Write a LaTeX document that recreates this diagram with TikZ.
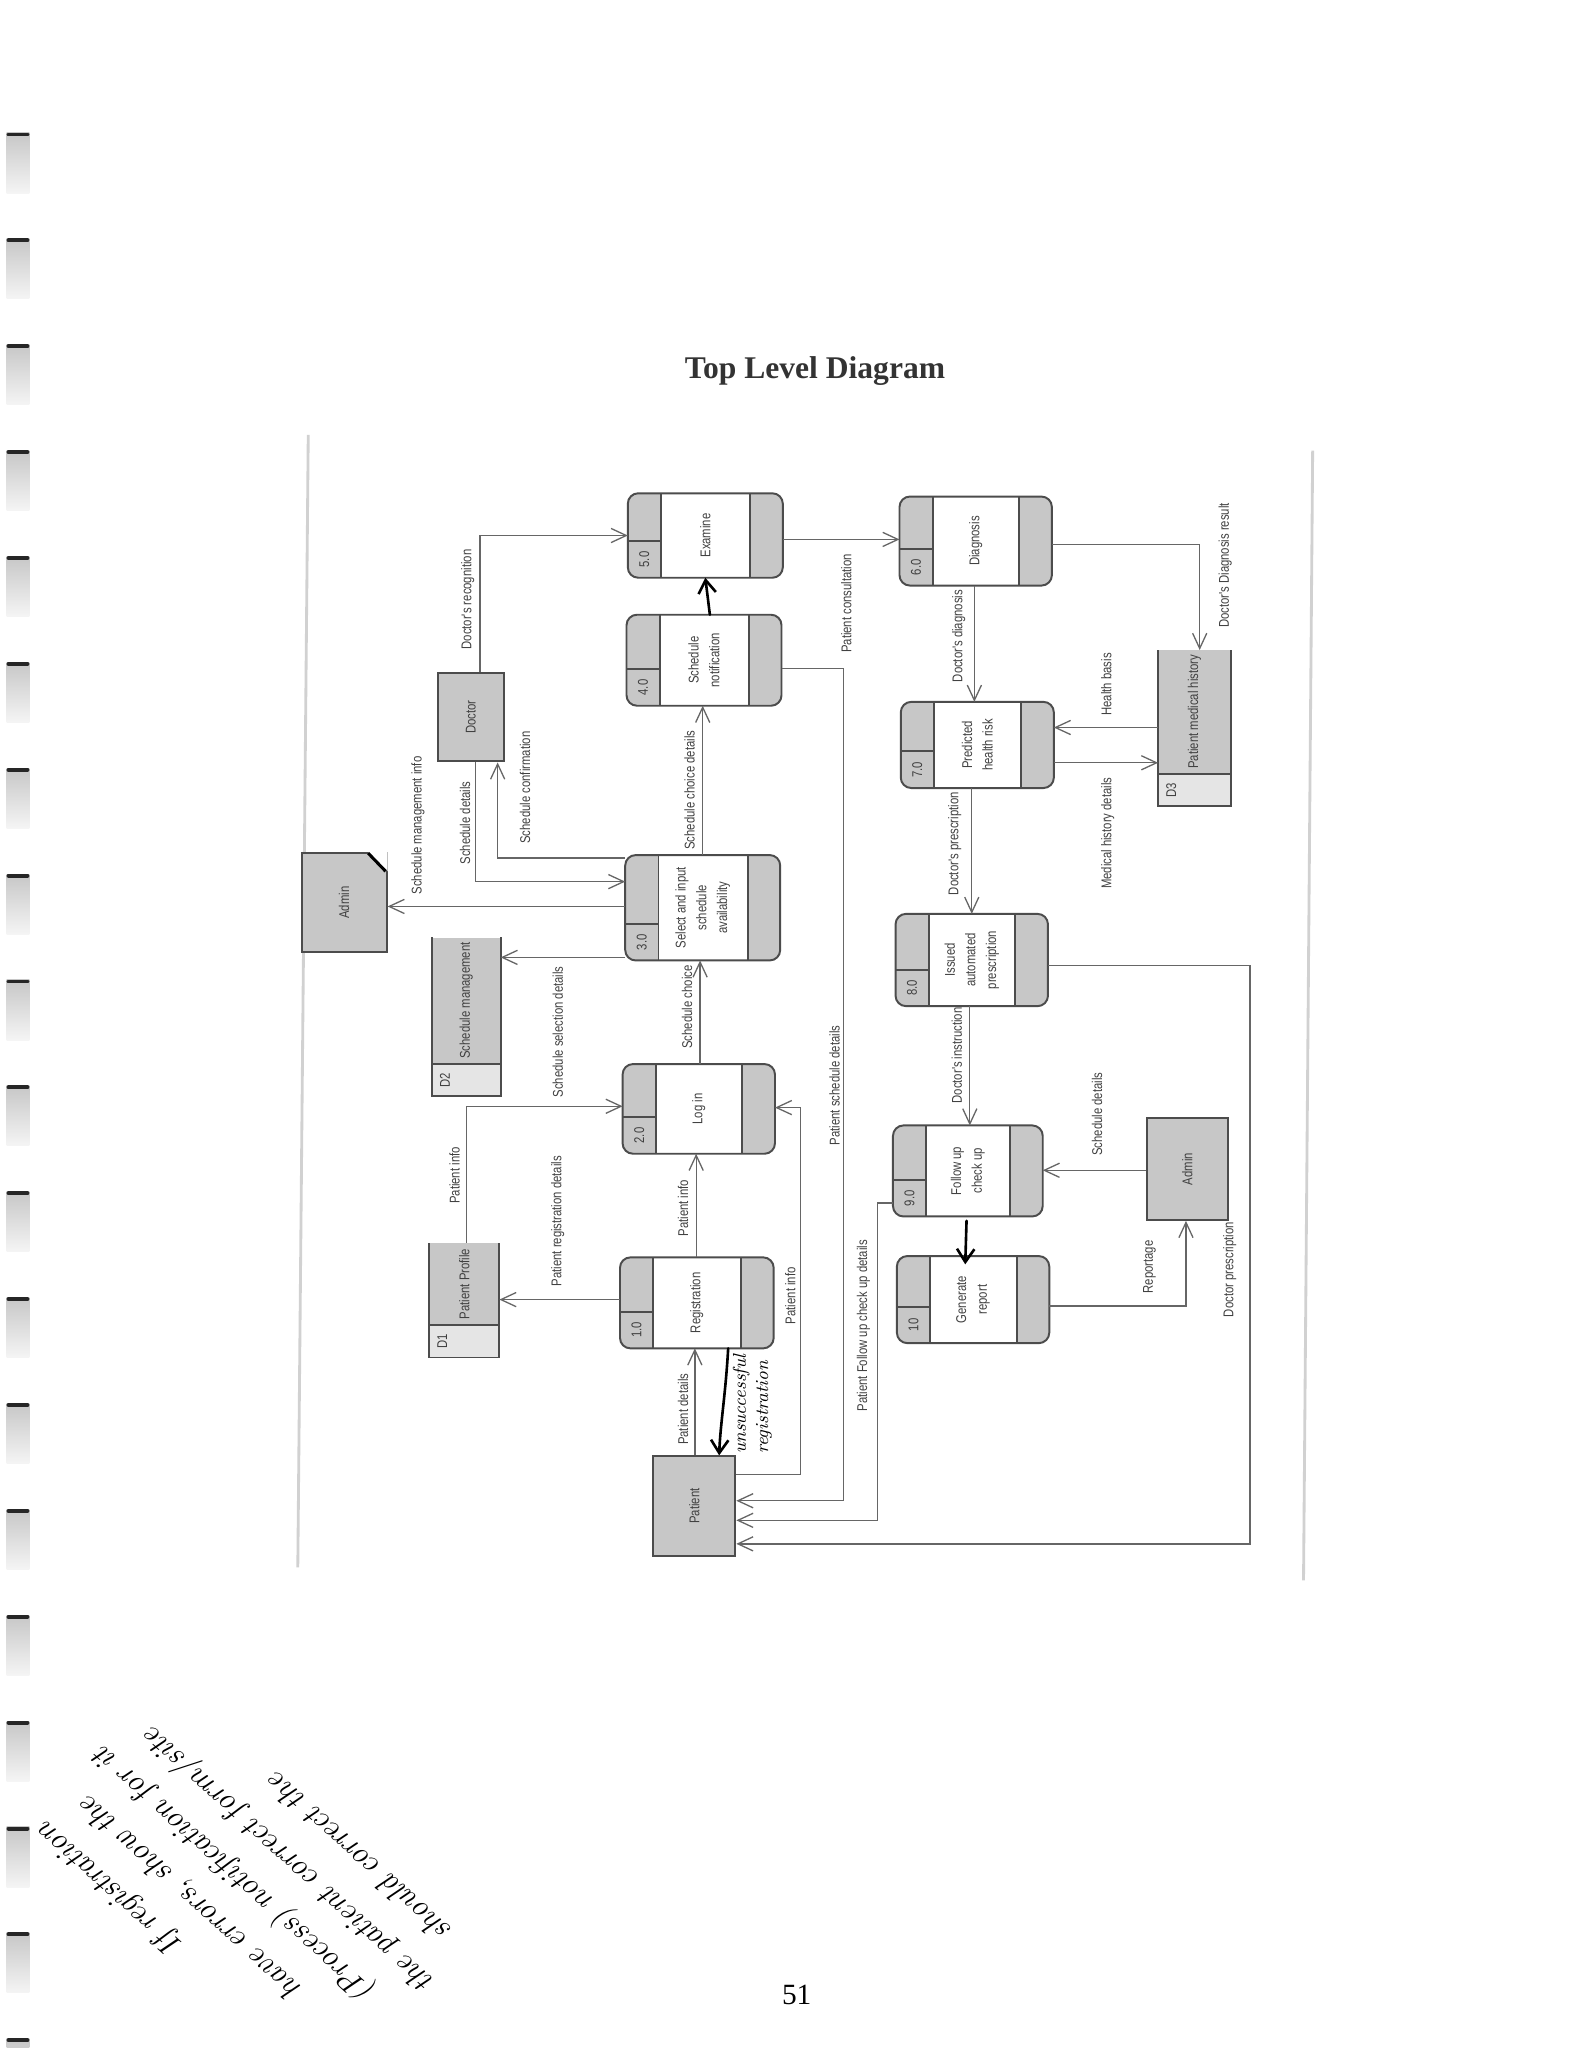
\documentclass[tikz,border=0pt]{standalone}
\usepackage{fontspec}
\usepackage{tikz}
\usetikzlibrary{arrows.meta, fit, calc}
\newfontfamily\dfdfont{Liberation Sans}[FakeStretch=0.8]
\newfontfamily\pagefont{Liberation Serif}
\tikzset{
  proc/.style={fill=black!22, rounded corners=4.8pt, inner sep=0pt},
  entity/.style={fill=black!22, draw=black!70, line width=0.9pt, inner sep=0pt},
  store/.style={fill=black!22, inner sep=0pt},
  boxline/.style={draw=black!70, line width=0.9pt},
  flow/.style={draw=black!60, line width=0.6pt, -{Straight Barb[length=7pt,width=6.5pt]}},
  lbl/.style={rotate=90, inner sep=0pt, text=black!75, font=\dfdfont\fontsize{6.5}{9.5}\selectfont},
  boxtxt/.style={lbl, align=center},
  pageline/.style={draw=black!18, line width=1.3pt},
  hand/.style={draw=black, line width=1.2pt, line cap=round, -{Straight Barb[length=6pt,width=8pt]}},
  handnote/.style={rotate=138, inner sep=0pt, font=\itshape\fontsize{14.5}{17}\selectfont},
}
% process box: name, corners, id, text
\newcommand{\procbox}[4]{%
  \node[proc, fit={#2}] (#1) {};
  \fill[white] ([xshift=15.3pt]#1.south west) rectangle ([xshift=-15pt]#1.north east);
  \draw[boxline] ([xshift=15.3pt]#1.south west) -- ([xshift=15.3pt]#1.north west)
    ([xshift=-15pt]#1.south east) -- ([xshift=-15pt]#1.north east)
    ([yshift=16.8pt]#1.south west) -- ([xshift=15.3pt,yshift=16.8pt]#1.south west);
  \draw[boxline, rounded corners=4.8pt] (#1.south west) rectangle (#1.north east);
  \node[lbl] (#1-id) at ([xshift=7.6pt,yshift=8.4pt]#1.south west) {#3};
  \node[boxtxt] (#1-txt) at (#1.center) {#4};
}
% data store: name, corners, id, text
\newcommand{\datastore}[4]{%
  \node[store, fit={#2}] (#1) {};
  \fill[black!10] (#1.south west) rectangle ([yshift=15pt]#1.south east);
  \draw[boxline] (#1.north west) -- (#1.south west) -- (#1.south east) -- (#1.north east)
    ([yshift=15pt]#1.south west) -- ([yshift=15pt]#1.south east);
  \node[lbl] (#1-id) at ([xshift=6pt,yshift=7.5pt]#1.south west) {#3};
  \node[lbl] (#1-txt) at ($(#1.north)!0.5!([yshift=15pt]#1.south)$) {#4};
}

\begin{document}
\begin{tikzpicture}[x=0.6pt, y=-0.6pt]
\useasboundingbox (0,0) rectangle (1211,1568);
\fill[white] (0,0) rectangle (1211,1568);
% binding holes
\foreach \k in {0,...,18} {
  \shade[top color=black!22, bottom color=black!4] (5,{101.8+81.06*\k}) rectangle (22.5,{147.8+81.06*\k});
  \draw[black!85, line width=1.8pt, line cap=round] (6.5,{103+81.06*\k}) -- (21,{103+81.06*\k});
}
% page
\node[font=\pagefont\bfseries\fontsize{14.5}{17}\selectfont, text=black!80] (title) at (624,284) {Top Level Diagram};
\node[font=\pagefont\fontsize{13.5}{16}\selectfont] (pagenum) at (610,1527) {51};
\draw[pageline] (236,333) -- (228,1200);
\draw[pageline] (1005,345) -- (998,1210);

% processes
\procbox{p1}{(475,963) (592,1032)}{1.0}{Registration}
\procbox{p2}{(477,815) (593,883)}{2.0}{Log in}
\procbox{p3}{(479,655) (597,735)}{3.0}{Select and input\\schedule\\availability}
\procbox{p4}{(480,471) (598,540)}{4.0}{Schedule\\notification}
\procbox{p5}{(481,378) (599,442)}{5.0}{Examine}
\procbox{p6}{(689,380.5) (805,448)}{6.0}{Diagnosis}
\procbox{p7}{(690,537.7) (806.5,603)}{7.0}{Predicted\\health risk}
\procbox{p8}{(686,700) (802,770)}{8.0}{Issued\\automated\\prescription}
\procbox{p9}{(684,862) (798,931)}{9.0}{Follow up\\check up}
\procbox{p10}{(687,962) (803,1028)}{10}{Generate\\report}

% entities
\node[entity, fit={(335,515) (386,583)}, label={[lbl, name=doctor-txt]center:Doctor}] (doctor) {};
\node[entity, fit={(231,653) (296,729)}, label={[lbl, name=admin1-txt]center:Admin}] (admin1) {};
\node[entity, fit={(500,1115) (563,1191)}, label={[lbl, name=patient-txt]center:Patient}] (patient) {};
\node[entity, fit={(878,856) (940,934)}, label={[lbl, name=admin2-txt]center:Admin}] (admin2) {};
\fill[white] ([xshift=-8.9pt]admin1.north east) -- (admin1.north east) -- ([yshift=-8.9pt]admin1.north east) -- cycle;
\draw[black, line width=1.4pt] ([xshift=-8.9pt,yshift=-0.6pt]admin1.north east) -- ([xshift=-0.9pt,yshift=-8.9pt]admin1.north east);

% stores
\datastore{d1}{(329,952) (382,1039)}{D1}{Patient Profile}
\datastore{d2}{(331,718) (383,839)}{D2}{Schedule management}
\datastore{d3}{(887,498) (942,617)}{D3}{Patient medical history}

% bends
\coordinate (k1) at (367.5,410);
\coordinate (k2) at (364,675);
\coordinate (k3) at (381,657);
\coordinate (k4) at (0,694);
\coordinate (k5) at (0,733);
\coordinate (k6) at (538,0);
\coordinate (k8) at (0,413);
\coordinate (k9a) at (646,512);
\coordinate (k9b) at (646,1149);
\coordinate (k10) at (918.5,417);
\coordinate (k11) at (746,0);
\coordinate (k12) at (0,557);
\coordinate (k13) at (0,584);
\coordinate (k14) at (744,0);
\coordinate (k15) at (742.5,0);
\coordinate (k16a) at (957,739);
\coordinate (k16b) at (957,1182);
\coordinate (k17a) at (672,921);
\coordinate (k17b) at (672,1164);
\coordinate (k18) at (0,896);
\coordinate (k19) at (908,1000);
\coordinate (k21) at (536,0);
\coordinate (k22) at (533,0);
\coordinate (k23) at (357,847);
\coordinate (k24) at (0,995);
\coordinate (k25) at (532,0);
\coordinate (k26a) at (613,1129);
\coordinate (k26b) at (613,848);

% flows
\draw[flow] (doctor.north -| k1) -- (k1) -- (p5.west |- k1);
\draw[flow] (doctor.south -| k2) -- (k2) -- (p3.west |- k2);
\draw[flow] (p3.west |- k3) -- (k3) -- (k3 |- doctor.south);
\draw[flow] (p3.west |- k4) -- (admin1.east |- k4);
\draw[flow] (p3.west |- k5) -- (d2.east |- k5);
\draw[flow] (p3.north -| k6) -- (p4.south -| k6);
\draw[flow] (p5.east |- k8) -- (p6.west |- k8);
\draw[flow] (p4.east |- k9a) -- (k9a) -- (k9b) -- (patient.east |- k9b);
\draw[flow] (p6.east |- k10) -- (k10) -- (k10 |- d3.north);
\draw[flow] (p6.south -| k11) -- (p7.north -| k11);
\draw[flow] (d3.west |- k12) -- (p7.east |- k12);
\draw[flow] (p7.east |- k13) -- (d3.west |- k13);
\draw[flow] (p7.south -| k14) -- (p8.north -| k14);
\draw[flow] (p8.south -| k15) -- (p9.north -| k15);
\draw[flow] (p8.east |- k16a) -- (k16a) -- (k16b) -- (patient.east |- k16b);
\draw[flow] (p9.west |- k17a) -- (k17a) -- (k17b) -- (patient.east |- k17b);
\draw[flow] (admin2.west |- k18) -- (p9.east |- k18);
\draw[flow] (p10.east |- k19) -- (k19) -- (k19 |- admin2.south);
\draw[flow] (p2.north -| k21) -- (p3.south -| k21);
\draw[flow] (p1.north -| k22) -- (p2.south -| k22);
\draw[flow] (d1.north -| k23) -- (k23) -- (p2.west |- k23);
\draw[flow] (p1.west |- k24) -- (d1.east |- k24);
\draw[flow] (patient.north -| k25) -- (p1.south -| k25);
\draw[flow] (patient.east |- k26a) -- (k26a) -- (k26b) -- (p2.east |- k26b);

% labels
\foreach \n/\x/\y/\lab in {
  l1/358/459/{Doctor's recognition}, l2/356/630/{Schedule details},
  l3/402/603/{Schedule confirmation}, l4/320/632/{Schedule management info},
  l5/427/790/{Schedule selection details}, l6/528/605/{Schedule choice details},
  l7/648/462/{Patient consultation}, l8/639/831/{Patient schedule details},
  l9/938/433/{Doctor's Diagnosis result}, l10/734/487/{Doctor's diagnosis},
  l11/847/524/{Health basis}, l12/848/638/{Medical history details},
  l13/731/646/{Doctor's prescription}, l14/732.5/808/{Doctor's instruction},
  l15/840/853/{Schedule details}, l16/880/970/{Reportage},
  l17/941.5/972/{Doctor prescription}, l18/661/1015/{Patient Follow up check up details},
  l19/526/771/{Schedule choice}, l20/348/900/{Patient info},
  l21/427/935/{Patient registration details}, l22/523/925/{Patient info},
  l23/605/992/{Patient info}, l24/523/1079/{Patient details}}
  \node[lbl] (\n) at (\x,\y) {\lab};

% handwritten marks
\coordinate (h1) at (543.5,0);
\coordinate (h2) at (540,0);
\coordinate (h3) at (740,0);
\coordinate (h3e) at (739,968);
\coordinate (h4) at (557.5,0);
\coordinate (h5) at (550.6,0);
\draw[hand] (p4.north -| h1) -- (p5.south -| h2);
\draw[hand] ([yshift=-2pt]p9.south -| h3) -- (h3e);
\draw[hand] (p1.south -| h4) .. controls (555.5,1068) and (551.5,1090) .. (patient.north -| h5);
\node[rotate=90, align=left, inner sep=0pt, font=\itshape\fontsize{8.5}{10.2}\selectfont] (unsucc) at (576,1075) {unsuccessful\\registration};

\node[handnote] (n1) at (84.1,1445.5) {If registration};
\node[handnote] (n2) at (145.6,1452.3) {have errors, show the};
\node[handnote] (n3) at (179.7,1434.6) {(Process) notification for it};
\node[handnote] (n4) at (221.1,1423.5) {the patient correct form/site};
\node[handnote] (n5) at (274.2,1422.8) {should correct the};
\end{tikzpicture}
\end{document}
